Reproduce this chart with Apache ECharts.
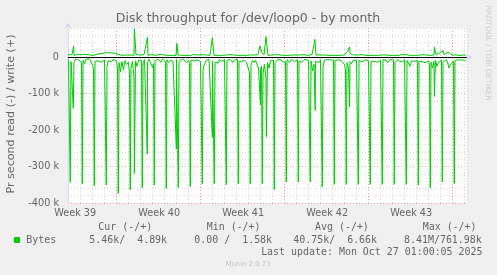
<!DOCTYPE html>
<html>
<head>
<meta charset="utf-8">
<script src="https://cdn.jsdelivr.net/npm/echarts@6.0.0/dist/echarts.min.js"></script>
<style>
html,body{margin:0;padding:0;background:#f0f0f0;}
#chart{width:497px;height:275px;}
</style>
</head>
<body>
<div id="chart"></div>
<script>
// ---- data (values in k bytes/s, x in days; day 7 = Monday of week 40) ----
const firstDay = 3;
const readHours = [1, 3, 4.5, 6, 9, 12, 15, 18, 21];
const readRows = [
  [-6, -10, -343, -12, -8, -15, -5, -9, -7],
  [-9, -14, -347, -8, -18, -6, -11, -4, -10],
  [-22, -33, -353, -12, -7, -10, -6, -14, -9],
  [-8, -12, -351, -25, -9, -5, -13, -7, -11],
  [-10, -28, -374, -15, -40, -12, -35, -9, -20],
  [-14, -45, -364, -30, -12, -55, -10, -25, -8],
  [-12, -9, -358, -16, -7, -10, -15, -6, -11],
  [-28, -18, -351, -9, -13, -6, -10, -14, -5],
  [-8, -12, -360, -7, -15, -9, -6, -11, -13],
  [-6, -10, -358, -14, -8, -12, -5, -9, -16],
  [-9, -15, -355, -8, -6, -11, -13, -7, -10],
  [-12, -8, -347, -33, -20, -9, -14, -6, -11],
  [-10, -7, -347, -13, -9, -16, -6, -12, -8],
  [-7, -11, -350, -9, -14, -6, -10, -15, -8],
  [-9, -6, -347, -12, -8, -13, -7, -10, -14],
  [-11, -42, -348, -20, -9, -15, -8, -12, -30],
  [-35, -25, -347, -45, -20, -60, -15, -30, -10],
  [-12, -8, -363, -14, -9, -6, -11, -7, -13],
  [-8, -13, -342, -7, -10, -15, -6, -9, -12],
  [-10, -7, -342, -12, -8, -14, -9, -6, -11],
  [-9, -14, -342, -10, -38, -20, -12, -8, -15],
  [-7, -11, -356, -28, -9, -13, -6, -10, -8],
  [-12, -8, -349, -10, -14, -7, -11, -9, -13],
  [-20, -35, -349, -15, -30, -12, -18, -9, -11],
  [-8, -12, -349, -9, -6, -13, -10, -7, -11],
  [-10, -7, -349, -13, -8, -11, -6, -14, -9],
  [-9, -13, -349, -7, -12, -8, -15, -10, -6],
  [-11, -8, -349, -14, -9, -6, -12, -10, -13],
  [-7, -12, -349, -9, -14, -25, -10, -8, -11],
  [-13, -9, -351, -11, -7, -12, -8, -15, -10],
  [-10, -20, -358, -14, -30, -12, -9, -25, -13],
  [-12, -8, -342, -15, -10, -6, -13, -30, -20],
  [-25, -11, -347, -9, -12, -7, -10, -8, -11]
];
const readExtras = [[3.44, -140], [8.53, -319], [9.61, -266], [12.03, -252], [15.03, -220],
  [19.04, -131], [19.53, -218], [23.6, -146], [26.46, -137], [33.53, -108]];
const readTail = [[36.04, -8], [36.15, -10]];

const writeHours = [0, 4, 8, 12, 16, 20];
const writeRows = [
  [6, 5, 7, 5, 6, 8], [5, 7, 6, 8, 5, 6], [7, 5, 6, 9, 12, 10], [13, 12, 14, 12, 13, 11],
  [12, 8, 6, 5, 7, 6], [5, 6, 8, 5, 7, 6], [6, 5, 7, 6, 5, 8], [7, 6, 5, 6, 8, 5],
  [6, 7, 5, 6, 5, 7], [5, 6, 8, 5, 6, 5], [6, 5, 6, 7, 5, 6], [5, 7, 5, 6, 6, 5],
  [6, 5, 7, 5, 6, 5], [5, 6, 5, 7, 5, 6], [6, 5, 6, 5, 7, 5], [5, 6, 5, 6, 5, 7],
  [8, 12, 6, 9, 5, 6], [6, 5, 7, 5, 6, 5], [5, 6, 5, 7, 6, 5], [6, 5, 6, 5, 7, 6],
  [5, 6, 7, 5, 6, 5], [6, 5, 6, 8, 5, 6], [5, 7, 5, 6, 5, 6], [6, 8, 18, 10, 7, 6],
  [5, 6, 5, 7, 6, 5], [6, 5, 7, 5, 6, 5], [5, 6, 5, 6, 7, 5], [6, 5, 6, 5, 6, 7],
  [5, 7, 6, 5, 6, 5], [6, 5, 5, 7, 5, 6], [6, 5, 8, 6, 7, 9], [12, 9, 7, 6, 14, 12],
  [6, 5, 6, 7, 5, 6]
];
const writeExtras = [[3.47, 31], [8.53, 78], [9.63, 55], [12.08, 38], [15.03, 53], [19.0, 31],
  [19.5, 56], [23.58, 49], [26.47, 28], [33.54, 28], [34.25, 18]];
const writeTail = [[36.0, 6], [36.15, 5]];

const weekLabelDays = [3.6, 10.6, 17.6, 24.6, 31.6];
const weekLabels = ['Week 39', 'Week 40', 'Week 41', 'Week 42', 'Week 43'];
const yTicks = { min: -400, max: 80, step: 20 };

const legendHeaders = ['Cur (-/+)', 'Min (-/+)', 'Avg (-/+)', 'Max (-/+)'];
const legendValues = ['5.46k/  4.89k', '0.00 /  1.58k', '40.75k/  6.66k', '8.41M/761.98k'];
const seriesName = 'Bytes';
const lastUpdate = 'Last update: Mon Oct 27 01:00:05 2025';

// ---- build ----
function build(rows, hours, extras, tail) {
  const pts = [];
  rows.forEach((row, k) => row.forEach((v, j) => pts.push([firstDay + k + hours[j] / 24, v])));
  extras.concat(tail).forEach(p => pts.push(p.slice()));
  pts.sort((a, b) => a[0] - b[0]);
  return pts;
}
const readData = build(readRows, readHours, readExtras, readTail);
const writeData = build(writeRows, writeHours, writeExtras, writeTail);

const GREEN = '#00cc00';
const FONT = '#666666';
const AXIS = '#cfd6f8';
const MINOR = '#d6d6d6';
const MAJOR = '#eaa0a0';

const chart = echarts.init(document.getElementById('chart'), null, { renderer: 'canvas' });
const legendX = [98.3, 206.7, 315, 422.7];
const valueX = [89.3, 194.3, 293.3, 404];
const graphics = [
  { type: 'text', x: 248, y: 19, style: { text: 'Disk throughput for /dev/loop0 - by month', fill: FONT,
      font: '12.5px "DejaVu Sans"', textAlign: 'center', textVerticalAlign: 'middle' } },
  { type: 'text', x: 11, y: 114, rotation: Math.PI / 2, style: { text: 'Pr second read (-) / write (+)', fill: FONT,
      font: '11.1px "DejaVu Sans"', textAlign: 'center', textVerticalAlign: 'middle' } },
  { type: 'text', x: 488, y: 53, rotation: -Math.PI / 2, style: { text: 'RRDTOOL / TOBI OETIKER', fill: '#cccccc',
      font: '7.4px "DejaVu Sans"', textAlign: 'center', textVerticalAlign: 'middle' } },
  { type: 'rect', shape: { x: 14, y: 237, width: 6, height: 6 }, style: { fill: GREEN } },
  { type: 'text', x: 26.3, y: 240, style: { text: seriesName, fill: FONT, font: '9.95px "DejaVu Sans Mono"',
      textAlign: 'left', textVerticalAlign: 'middle' } },
  { type: 'text', x: 482.5, y: 252, style: { text: lastUpdate, fill: FONT, font: '9.95px "DejaVu Sans Mono"',
      textAlign: 'right', textVerticalAlign: 'middle' } },
  { type: 'text', x: 248, y: 264, style: { text: 'Munin 2.0.73', fill: '#c4c4c4', font: '6.9px "DejaVu Sans"',
      textAlign: 'center', textVerticalAlign: 'middle' } }
];
legendHeaders.forEach((t, i) => graphics.push({ type: 'text', x: legendX[i], y: 227.5,
  style: { text: t, fill: FONT, font: '9.95px "DejaVu Sans Mono"', textAlign: 'left', textVerticalAlign: 'middle' } }));
legendValues.forEach((t, i) => graphics.push({ type: 'text', x: valueX[i], y: 240,
  style: { text: t, fill: FONT, font: '9.95px "DejaVu Sans Mono"', textAlign: 'left', textVerticalAlign: 'middle' } }));

chart.setOption({
  animation: false,
  backgroundColor: '#f0f0f0',
  grid: { left: 68, top: 28, width: 399, height: 175, show: true, backgroundColor: '#ffffff', borderWidth: 0, containLabel: false },
  xAxis: {
    type: 'value', min: firstDay, max: 36.25, interval: 1,
    axisLine: { show: true, lineStyle: { color: AXIS, width: 1 }, symbol: ['none', 'arrow'], symbolSize: [5, 5], symbolOffset: [0, 5] },
    axisTick: { show: false },
    axisLabel: {
      customValues: weekLabelDays,
      formatter: function (v) {
        let best = 0;
        weekLabelDays.forEach((d, i) => { if (Math.abs(d - v) < Math.abs(weekLabelDays[best] - v)) best = i; });
        return weekLabels[best];
      },
      color: FONT, fontFamily: 'DejaVu Sans', fontSize: 9.7, margin: 5
    },
    splitLine: { show: true, lineStyle: { color: [MINOR, MINOR, MINOR, MINOR, MAJOR, MINOR, MINOR], type: [1, 2], width: 1 } }
  },
  yAxis: {
    type: 'value', min: yTicks.min, max: yTicks.max, interval: yTicks.step,
    axisLine: { show: true, lineStyle: { color: AXIS, width: 1 }, symbol: ['none', 'arrow'], symbolSize: [5, 5], symbolOffset: [0, 5] },
    axisTick: { show: false },
    axisLabel: {
      formatter: v => (v % 100 === 0 ? (v === 0 ? '0' : v + ' k') : ''),
      color: FONT, fontFamily: 'DejaVu Sans', fontSize: 9.7, margin: 9
    },
    splitLine: { show: true, lineStyle: { color: [MAJOR, MINOR, MINOR, MINOR, MINOR], type: [1, 2], width: 1 } }
  },
  series: [
    { type: 'line', name: 'write', data: writeData, showSymbol: false, symbol: 'none',
      lineStyle: { color: GREEN, width: 1 }, z: 3 },
    { type: 'line', name: 'read', data: readData, showSymbol: false, symbol: 'none',
      lineStyle: { color: GREEN, width: 1 }, z: 3,
      markLine: { silent: true, symbol: ['none', 'none'], label: { show: false },
        lineStyle: { color: '#000000', width: 1, type: 'solid' }, data: [{ yAxis: 0 }] } }
  ],
  graphic: graphics
});
</script>
</body>
</html>
